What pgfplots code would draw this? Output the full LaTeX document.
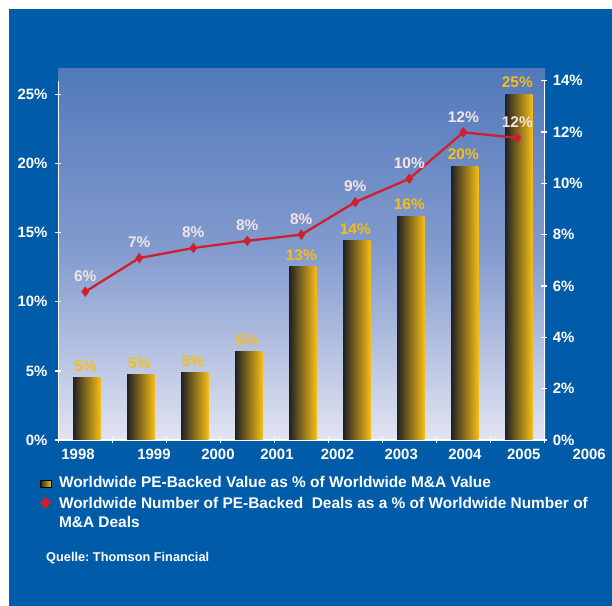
\documentclass[border=0pt]{standalone}
\usepackage{pgfplots}
\pgfplotsset{compat=1.18}
\usepackage{pgfplotstable}
\usepackage{fontspec}
\setmainfont{Liberation Sans}
\frenchspacing
\definecolor{bgblue}{RGB}{0,92,169}
\definecolor{baryellow}{RGB}{246,190,24}
\definecolor{bardark}{RGB}{32,32,36}
\definecolor{linered}{RGB}{208,32,44}
\definecolor{linelabel}{RGB}{243,228,230}
\definecolor{plottop}{RGB}{82,121,186}
\definecolor{plotmid}{RGB}{132,156,207}
\definecolor{plotbot}{RGB}{226,228,241}

\pgfplotstableread{
x val lab
0 4.51 5
1 4.71 5
2 4.86 5
3 6.38 6
4 12.54 13
5 14.42 14
6 16.18 16
7 19.78 20
8 25.02 25
}\bardata
\pgfplotstableread{
x val lab
0 5.78 6
1 7.09 7
2 7.48 8
3 7.76 8
4 8.00 8
5 9.27 9
6 10.18 10
7 11.99 12
8 11.77 12
}\linedata

\pgfplotsset{
  common/.style={
    at={(58.3bp,166bp)}, anchor=south west,
    scale only axis, width=486bp, height=359.3bp,
    xmin=-0.5, xmax=8.5, ymin=0, clip=false,
    axis line style={white, line width=1.2bp, -},
    tick style={white, line width=1.2bp},
    major tick length=6bp, tick align=center,
    ticklabel style={text=white, font=\bfseries\fontsize{15}{18}\selectfont},
    /pgf/number format/assume math mode=true,
  },
}
\begin{document}
\begin{tikzpicture}
\useasboundingbox (0,0) rectangle (612bp,606bp);
\fill[white] (0,0) rectangle (612bp,606bp);
\fill[bgblue] (9bp,0) rectangle (612bp,597bp);
\shade[top color=plottop, bottom color=plotbot, middle color=plotmid] (58.7bp,166bp) rectangle (545bp,537bp);
\begin{axis}[common, ymax=26,
  axis y line*=left, axis x line*=bottom,
  xtick={-0.5,0.5,...,8.5}, xticklabels={},
  extra x ticks={-0.135,1.272,2.457,3.55,4.67,5.85,7.03,8.12},
  extra x tick labels={1998,1999,2000,2001,2002,2003,2004,2005},
  extra x tick style={major tick length=0pt, xticklabel style={yshift=-6bp}},
  ytick={0,5,...,25}, yticklabel={\pgfmathprintnumber{\tick}\%},
  yticklabel style={xshift=-4.3bp},
]
\pgfplotsinvokeforeach{0,...,8}{
\addplot[ybar, bar width=0.507, bar shift=1.5bp,
  draw=none, left color=bardark, middle color=baryellow, right color=baryellow,
  restrict expr to domain={\coordindex}{#1:#1},
  point meta=explicit,
  nodes near coords={\pgfmathprintnumber[fixed,precision=0]{\pgfplotspointmeta}\%},
  every node near coord/.append style={text=baryellow, font=\bfseries\fontsize{15.5}{18}\selectfont, yshift=3bp}]
  table[x=x, y=val, meta=lab]{\bardata};
}
\node[anchor=north, text=white, font=\bfseries\fontsize{15}{18}\selectfont, yshift=-6bp] at (axis cs:9.33,0) {2006};
\end{axis}
\begin{axis}[common, ymax=14,
  axis y line*=right, axis x line=none, xtick=\empty,
  ytick={0,2,...,14}, yticklabel={\pgfmathprintnumber{\tick}\%},
  yticklabel style={xshift=2bp},
  legend style={at={(axis description cs:-0.0391,-0.1021)}, anchor=north west,
    draw=none, fill=none, inner sep=0pt, outer sep=0pt, text=white,
    font=\bfseries\fontsize{15.5}{18.6}\selectfont,
    cells={anchor=base west, align=left}, nodes={inner sep=0pt, text depth=0pt},
    column sep=7bp, row sep=9.4bp},
]
\addlegendimage{legend image code/.code={\shade[left color=bardark, middle color=baryellow, right color=baryellow] (0bp,0.7bp) rectangle (10.7bp,7.3bp);}}
\addlegendentry{Worldwide PE-Backed Value as \% of Worldwide M\&A Value}
\addplot[linered, line width=2.3bp, mark=diamond*, mark size=4.8bp, mark options={fill=linered, line width=0.5bp},
  point meta=explicit,
  nodes near coords={\pgfmathprintnumber[fixed,precision=0]{\pgfplotspointmeta}\%},
  every node near coord/.append style={text=linelabel, font=\bfseries\fontsize{15.5}{18}\selectfont, yshift=6.5bp},
  legend image code/.code={\draw[linered, line width=2bp] (0bp,24.3bp) -- (10.7bp,24.3bp);
    \fill[linered] (5.35bp,28.8bp) -- (8.7bp,24.3bp) -- (5.35bp,19.8bp) -- (2bp,24.3bp) -- cycle;}]
  table[x=x, y=val, meta=lab]{\linedata};
\addlegendentry{Worldwide Number of PE-Backed\ \ Deals as a \% of Worldwide Number of\\M\&A Deals}
\end{axis}
\node[anchor=base west, text=white, font=\bfseries\fontsize{12.8}{15}\selectfont, inner sep=0pt] at (46bp,44.7bp) {Quelle: Thomson Financial};
\end{tikzpicture}
\end{document}
